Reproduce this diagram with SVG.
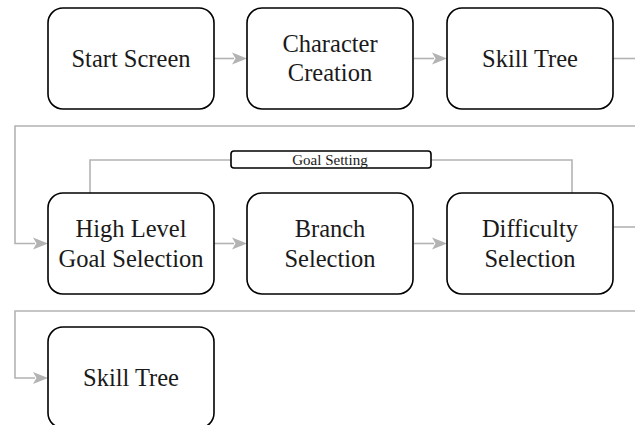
<svg xmlns="http://www.w3.org/2000/svg" width="635" height="425" viewBox="0 0 635 425">
<style>
.box{fill:#fff;stroke:#000;stroke-width:1.6}
text{font-family:'Liberation Serif',serif}
.lbl{font-size:24.5px;fill:#1a1a1a;text-anchor:middle}
.small{font-size:15px;fill:#1a1a1a;text-anchor:middle}
.edge{fill:none;stroke:#b3b3b3;stroke-width:1.6}
.head{fill:#b3b3b3;stroke:none}
</style>
<defs>
<clipPath id="lblclip"><rect x="231" y="151" width="200" height="17"/></clipPath>
</defs>
<g id="connectors">
<path class="edge" d="M214,58.5 H234"/>
<path class="head" d="M247,58.5 L232,52.5 L235.5,58.5 L232,64.5 Z"/>
<path class="edge" d="M414,58.5 H434"/>
<path class="head" d="M447,58.5 L432,52.5 L435.5,58.5 L432,64.5 Z"/>
<path class="edge" d="M613,58.5 H635"/>
<path class="edge" d="M635,126 H15 V243.5 H35"/>
<path class="head" d="M48,243.5 L33,237.5 L36.5,243.5 L33,249.5 Z"/>
<path class="edge" d="M214,243.5 H234"/>
<path class="head" d="M247,243.5 L232,237.5 L235.5,243.5 L232,249.5 Z"/>
<path class="edge" d="M414,243.5 H434"/>
<path class="head" d="M447,243.5 L432,237.5 L435.5,243.5 L432,249.5 Z"/>
<path class="edge" d="M613,227 H635"/>
<path class="edge" d="M635,311 H15 V378 H35"/>
<path class="head" d="M48,378 L33,372 L36.5,378 L33,384 Z"/>
<path class="edge" d="M90,193 V160 H231"/>
<path class="edge" d="M431,160 H572 V193"/>
</g>
<g id="goal-setting">
<rect x="231" y="151" width="200" height="17" rx="3" fill="#fff" stroke="#000" stroke-width="1.6"/>
<text class="small" x="330" y="165" clip-path="url(#lblclip)">Goal Setting</text>
</g>
<g id="start-screen">
<rect class="box" x="48" y="8" width="166" height="101" rx="15"/>
<text class="lbl" x="131" y="67">Start Screen</text>
</g>
<g id="character-creation">
<rect class="box" x="247" y="8" width="166" height="101" rx="15"/>
<text class="lbl" x="330" y="52">Character</text>
<text class="lbl" x="330" y="81">Creation</text>
</g>
<g id="skill-tree-1">
<rect class="box" x="447" y="8" width="166" height="101" rx="15"/>
<text class="lbl" x="530" y="67">Skill Tree</text>
</g>
<g id="high-level-goal-selection">
<rect class="box" x="48" y="193" width="166" height="101" rx="15"/>
<text class="lbl" x="131" y="237">High Level</text>
<text class="lbl" x="131" y="267">Goal Selection</text>
</g>
<g id="branch-selection">
<rect class="box" x="247" y="193" width="166" height="101" rx="15"/>
<text class="lbl" x="330" y="237">Branch</text>
<text class="lbl" x="330" y="267">Selection</text>
</g>
<g id="difficulty-selection">
<rect class="box" x="447" y="193" width="166" height="101" rx="15"/>
<text class="lbl" x="530" y="237">Difficulty</text>
<text class="lbl" x="530" y="267">Selection</text>
</g>
<g id="skill-tree-2">
<rect class="box" x="48" y="327" width="166" height="101" rx="15"/>
<text class="lbl" x="131" y="386">Skill Tree</text>
</g>
</svg>
